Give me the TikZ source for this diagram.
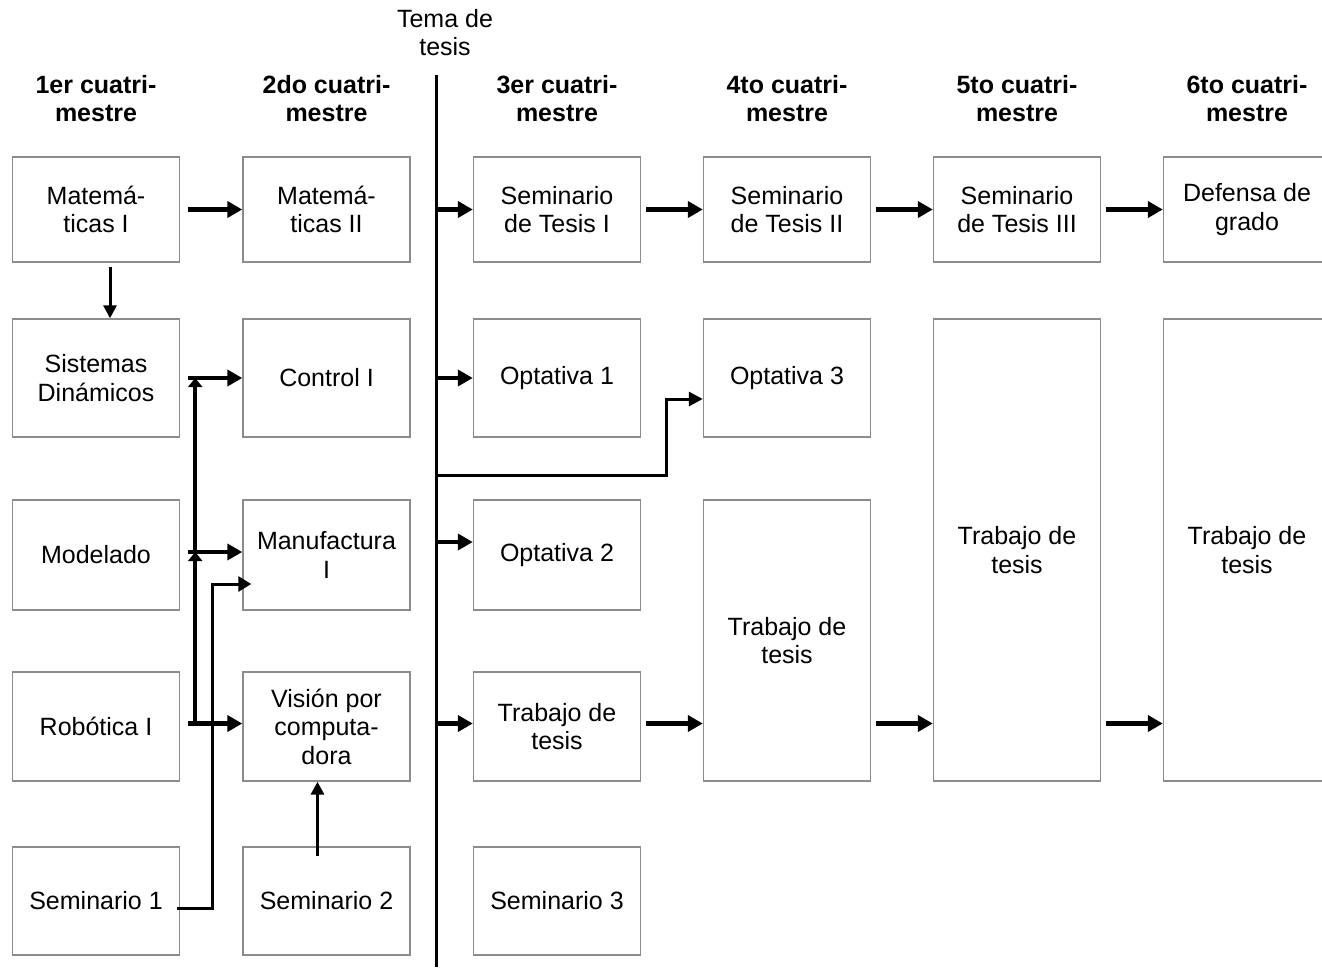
\documentclass[tikz,border=0pt]{standalone}
\usepackage{fontspec}
\setmainfont{Liberation Sans}
\usepackage{tikz}
\usetikzlibrary{arrows.meta}

\begin{document}
\begin{tikzpicture}[x=1pt, y=-1pt,
        materia/.style={draw=black!45, line width=1.4pt, fill=white, inner sep=0pt,
                minimum width=167pt, minimum height=109pt, align=center,
                font=\fontsize{25}{28.5}\selectfont},
        titulo/.style={align=center, font=\fontsize{25}{28}\selectfont\bfseries},
        flecha/.style={line width=4.5pt, -{Triangle[length=15pt,width=16pt]}},
        flechita/.style={line width=3pt, -{Triangle[length=13pt,width=13pt]}}]

    \clip (0,0) rectangle (1322,967);

    % \draw[step=50, gray, very thin] (0,0) grid (1322,967);

    \pgfmathsetmacro{\xcola}{96}
    \pgfmathsetmacro{\xcolb}{326.5}
    \pgfmathsetmacro{\xcolc}{557}
    \pgfmathsetmacro{\xcold}{787}
    \pgfmathsetmacro{\xcole}{1017}
    \pgfmathsetmacro{\xcolf}{1247}

    % encabezados
    \foreach \x/\n in {\xcola/1er, \xcolb/2do, \xcolc/3er, \xcold/4to, \xcole/5to, \xcolf/6to} {
            \node[titulo] (cuat\n) at (\x,99) {\n\ cuatri-\\mestre};
        }
    \node[align=center, font=\fontsize{25}{28}\selectfont] (tema) at (445,33) {Tema de\\tesis};

    % primer cuatrimestre
    \node[materia, minimum height=105pt] (mat1) at (\xcola,209.5) {Matemá-\\ticas I};
    \node[materia, minimum height=118pt] (sisd) at (\xcola,378) {Sistemas\\Dinámicos};
    \node[materia, minimum height=110pt] (mod) at (\xcola,555) {Modelado};
    \node[materia] (rob) at (\xcola,726.5) {Robótica I};
    \node[materia, minimum height=108pt] (sem1) at (\xcola,901) {Seminario 1};

    % segundo cuatrimestre
    \node[materia, minimum height=105pt] (mat2) at (\xcolb,209.5) {Matemá-\\ticas II};
    \node[materia, minimum height=118pt] (ctl) at (\xcolb,378) {Control I};
    \node[materia, minimum height=110pt] (man) at (\xcolb,555) {Manufactura\\I};
    \node[materia] (vis) at (\xcolb,726.5) {Visión por\\computa-\\dora};
    \node[materia, minimum height=108pt] (sem2) at (\xcolb,901) {Seminario 2};

    % tercer cuatrimestre
    \node[materia, minimum height=105pt] (st1) at (\xcolc,209.5) {Seminario\\de Tesis I};
    \node[materia, minimum height=118pt] (op1) at (\xcolc,378) {Optativa 1};
    \node[materia, minimum height=110pt] (op2) at (\xcolc,555) {Optativa 2};
    \node[materia] (tt3) at (\xcolc,726.5) {Trabajo de\\tesis};
    \node[materia, minimum height=108pt] (sem3) at (\xcolc,901) {Seminario 3};

    % cuarto a sexto
    \node[materia, minimum height=105pt] (st2) at (\xcold,209.5) {Seminario\\de Tesis II};
    \node[materia, minimum height=118pt] (op3) at (\xcold,378) {Optativa 3};
    \node[materia, minimum height=281pt] (tt4) at (\xcold,640.5) {Trabajo de\\tesis};
    \node[materia, minimum height=105pt] (st3) at (\xcole,209.5) {Seminario\\de Tesis III};
    \node[materia, minimum height=462pt] (tt5) at (\xcole,550) {Trabajo de\\tesis};
    \node[materia, minimum height=105pt] (def) at (\xcolf,209.5) {Defensa de\\grado};
    \node[materia, minimum height=462pt] (tt6) at (\xcolf,550) {Trabajo de\\tesis};

    % linea del tema de tesis
    \coordinate (eje) at (436,75);
    \coordinate (ejefin) at (436,967);
    \coordinate (rama) at (436,475);
    \draw[line width=3pt] (eje) -- (ejefin);

    \foreach \dest/\dy in {st1/0, op1/0, op2/13, tt3/3} {
            \draw[flecha] ([yshift=\dy pt]\dest.west -| eje) -- ([yshift=\dy pt]\dest.west);
        }
    \draw[line width=3pt, -{Triangle[length=14pt,width=14pt]}] (rama)
        -| ([xshift=-36pt,yshift=-21pt]op3.west) -- ([yshift=-21pt]op3.west);

    % hacia la derecha
    \draw[flecha, shorten <=8pt] (mat1) -- (mat2);
    \foreach \a/\b in {st1/st2, st2/st3, st3/def} {
            \draw[flecha, shorten <=5pt] (\a) -- (\b);
        }
    \foreach \a/\b in {tt3/tt4, tt4/tt5, tt5/tt6} {
            \draw[flecha, shorten <=5pt] ([yshift=3pt]\a.east |- tt3) -- ([yshift=3pt]\b.west |- tt3);
        }

    % primer bloque
    \draw[flechita, shorten <=4pt] ([xshift=14pt]mat1.south) -- ([xshift=14pt]sisd.north);
    \draw[flecha, shorten <=8pt] (sisd) -- (ctl);
    \draw[flecha, shorten <=8pt] ([yshift=3pt]mod.east) -- ([yshift=3pt]man.west);
    \draw[flecha, shorten <=8pt] ([yshift=3pt]rob.east) -- ([yshift=3pt]vis.west);
    \coordinate (nudo) at ([xshift=15pt,yshift=3pt]rob.east);
    \draw[line width=4pt, -{Triangle[length=9pt,width=14pt]}] (nudo) -- ([yshift=3pt]nudo |- mod.east);
    \draw[line width=4pt, -{Triangle[length=9pt,width=14pt]}] ([yshift=3pt]nudo |- mod.east) -- (nudo |- sisd.east);
    \draw[line width=3pt, -{Triangle[length=13pt,width=15pt]}] ([xshift=-3pt,yshift=-7pt]sem1.east)
        -| ([xshift=-30pt,yshift=-29pt]man.west) -- ([xshift=9pt,yshift=-29pt]man.west);
    \draw[flechita] ([xshift=-9pt,yshift=-10pt]sem2.north) -- ([xshift=-9pt]vis.south);
\end{tikzpicture}
\end{document}
